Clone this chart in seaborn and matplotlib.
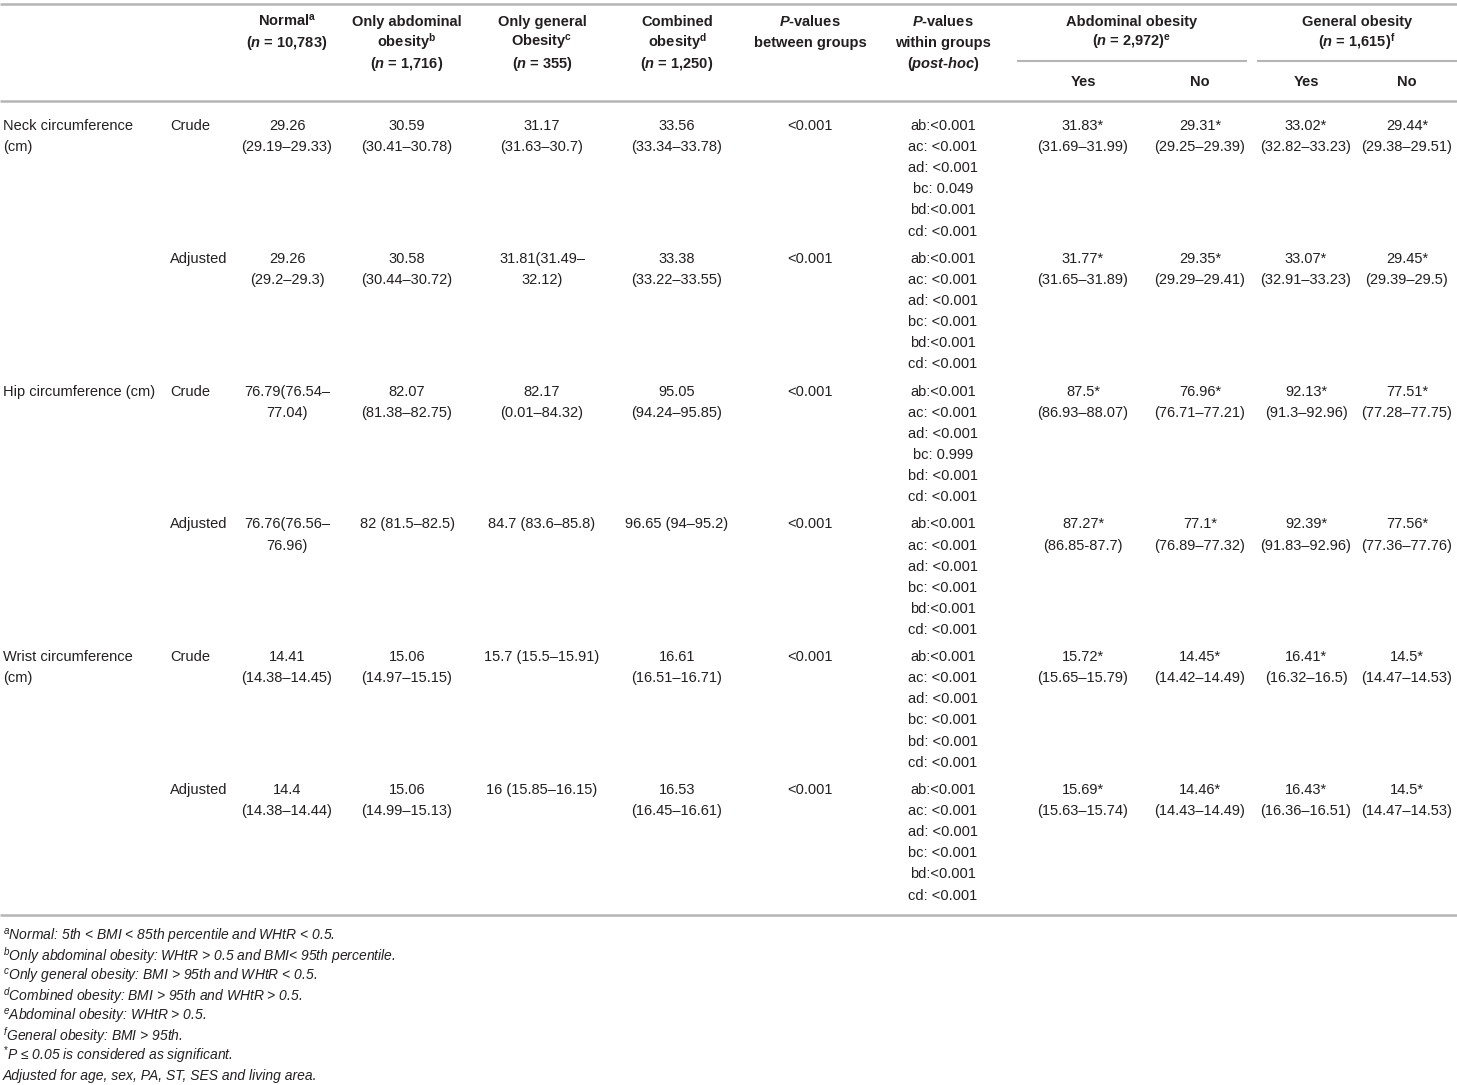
import numpy as np
import seaborn as sns
import matplotlib.pyplot as plt

# table contents
measures = [["Neck circumference", "(cm)"],
            ["Hip circumference (cm)"],
            ["Wrist circumference", "(cm)"]]
models = ["Crude", "Adjusted"]

normal = ["29.26\n(29.19–29.33)", "29.26\n(29.2–29.3)",
          "76.79(76.54–\n77.04)", "76.76(76.56–\n76.96)",
          "14.41\n(14.38–14.45)", "14.4\n(14.38–14.44)"]
only_abd = ["30.59\n(30.41–30.78)", "30.58\n(30.44–30.72)",
            "82.07\n(81.38–82.75)", "82 (81.5–82.5)",
            "15.06\n(14.97–15.15)", "15.06\n(14.99–15.13)"]
only_gen = ["31.17\n(31.63–30.7)", "31.81(31.49–\n32.12)",
            "82.17\n(0.01–84.32)", "84.7 (83.6–85.8)",
            "15.7 (15.5–15.91)", "16 (15.85–16.15)"]
combined = ["33.56\n(33.34–33.78)", "33.38\n(33.22–33.55)",
            "95.05\n(94.24–95.85)", "96.65 (94–95.2)",
            "16.61\n(16.51–16.71)", "16.53\n(16.45–16.61)"]
p_between = ["<0.001", "<0.001", "<0.001", "<0.001", "<0.001", "<0.001"]
p_within = [
    ["ab:<0.001", "ac: <0.001", "ad: <0.001", "bc: 0.049", "bd:<0.001", "cd: <0.001"],
    ["ab:<0.001", "ac: <0.001", "ad: <0.001", "bc: <0.001", "bd:<0.001", "cd: <0.001"],
    ["ab:<0.001", "ac: <0.001", "ad: <0.001", "bc: 0.999", "bd: <0.001", "cd: <0.001"],
    ["ab:<0.001", "ac: <0.001", "ad: <0.001", "bc: <0.001", "bd:<0.001", "cd: <0.001"],
    ["ab:<0.001", "ac: <0.001", "ad: <0.001", "bc: <0.001", "bd: <0.001", "cd: <0.001"],
    ["ab:<0.001", "ac: <0.001", "ad: <0.001", "bc: <0.001", "bd:<0.001", "cd: <0.001"],
]
abd_yes = ["31.83*\n(31.69–31.99)", "31.77*\n(31.65–31.89)", "87.5*\n(86.93–88.07)",
           "87.27*\n(86.85-87.7)", "15.72*\n(15.65–15.79)", "15.69*\n(15.63–15.74)"]
abd_no = ["29.31*\n(29.25–29.39)", "29.35*\n(29.29–29.41)", "76.96*\n(76.71–77.21)",
          "77.1*\n(76.89–77.32)", "14.45*\n(14.42–14.49)", "14.46*\n(14.43–14.49)"]
gen_yes = ["33.02*\n(32.82–33.23)", "33.07*\n(32.91–33.23)", "92.13*\n(91.3–92.96)",
           "92.39*\n(91.83–92.96)", "16.41*\n(16.32–16.5)", "16.43*\n(16.36–16.51)"]
gen_no = ["29.44*\n(29.38–29.51)", "29.45*\n(29.39–29.5)", "77.51*\n(77.28–77.75)",
          "77.56*\n(77.36–77.76)", "14.5*\n(14.47–14.53)", "14.5*\n(14.47–14.53)"]

headers = [
    ["Normal$^{\\mathbf{a}}$", "($\\mathbfit{n}$ = 10,783)"],
    ["Only abdominal", "obesity$^{\\mathbf{b}}$", "($\\mathbfit{n}$ = 1,716)"],
    ["Only general", "Obesity$^{\\mathbf{c}}$", "($\\mathbfit{n}$ = 355)"],
    ["Combined", "obesity$^{\\mathbf{d}}$", "($\\mathbfit{n}$ = 1,250)"],
    ["$\\mathbfit{P}$-values", "between groups"],
    ["$\\mathbfit{P}$-values", "within groups", "($\\mathbfit{post}$-$\\mathbfit{hoc}$)"],
]
group_headers = [["Abdominal obesity", "($\\mathbfit{n}$ = 2,972)$^{\\mathbf{e}}$"],
                 ["General obesity", "($\\mathbfit{n}$ = 1,615)$^{\\mathbf{f}}$"]]
sub_headers = ["Yes", "No", "Yes", "No"]

footnotes = [
    "$^{a}$Normal: 5th < BMI < 85th percentile and WHtR < 0.5.",
    "$^{b}$Only abdominal obesity: WHtR > 0.5 and BMI< 95th percentile.",
    "$^{c}$Only general obesity: BMI > 95th and WHtR < 0.5.",
    "$^{d}$Combined obesity: BMI > 95th and WHtR > 0.5.",
    "$^{e}$Abdominal obesity: WHtR > 0.5.",
    "$^{f}$General obesity: BMI > 95th.",
    "$^{*}$P ≤ 0.05 is considered as significant.",
    "Adjusted for age, sex, PA, ST, SES and living area.",
]

# style
sns.set_theme(style="white")
plt.rcParams['font.family'] = ['Liberation Sans', 'DejaVu Sans']
plt.rcParams['mathtext.fontset'] = 'custom'
plt.rcParams['mathtext.rm'] = 'Liberation Sans'
plt.rcParams['mathtext.it'] = 'Liberation Sans:italic'
plt.rcParams['mathtext.bf'] = 'Liberation Sans:bold'
plt.rcParams['mathtext.bfit'] = 'Liberation Sans:italic:bold'

TXT = '#231f20'
RULE = '#b5b5b5'
FS = 10.5
LH = 21.1
BASE = 5  # baseline offset from visual line centre

fig = plt.figure(figsize=(14.57, 10.85), dpi=100)
ax = fig.add_axes([0, 0, 1, 1])
ax.set_xlim(0, 1457)
ax.set_ylim(1085, 0)
ax.axis('off')


def put(x, y0, lines, ha='center', step=LH, **kw):
    for i, s in enumerate(lines):
        ax.text(x, y0 + i * step + BASE, s, ha=ha, va='baseline', color=TXT,
                fontsize=FS, **kw)


# rules
ax.hlines(4, 0, 1457, color=RULE, lw=1.8)
ax.hlines(101, 0, 1457, color=RULE, lw=1.8)
ax.hlines(915, 0, 1457, color=RULE, lw=1.8)
ax.hlines(61, 1017, 1247, color=RULE, lw=1.5)
ax.hlines(61, 1257, 1457, color=RULE, lw=1.5)

# header
col_x = [287, 407, 542, 677, 810, 943, 1083, 1200, 1306, 1407]
for x, lines in zip(col_x[:6], headers):
    put(x, 21, lines, fontweight='bold')
for x, lines in zip([1132, 1357], group_headers):
    put(x, 21, lines, fontweight='bold')
for x, s in zip(col_x[6:], sub_headers):
    put(x, 81, [s], fontweight='bold')

# body
columns = [normal, only_abd, only_gen, combined, p_between,
           None, abd_yes, abd_no, gen_yes, gen_no]
block = 132.8
for r in range(6):
    y0 = 125 + r * block
    if r % 2 == 0:
        put(3, y0, measures[r // 2], ha='left')
    put(170, y0, [models[r % 2]], ha='left')
    for x, col in zip(col_x, columns):
        if col is None:
            put(x, y0, p_within[r])
        else:
            put(x, y0, col[r].split('\n'))

# footnotes
for i, s in enumerate(footnotes):
    ax.text(3, 936 + i * 19.85 + 5, s, ha='left', va='baseline', color=TXT,
            fontsize=10, style='italic')

fig.savefig('out.png', dpi=100)
